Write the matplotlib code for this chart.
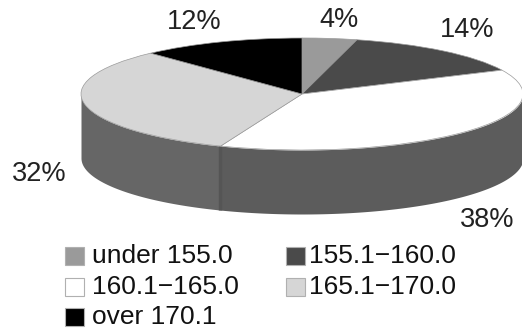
import numpy as np
import matplotlib
matplotlib.use("Agg")
import matplotlib.pyplot as plt
from matplotlib.patches import Rectangle

plt.rcParams["font.family"] = ["Liberation Sans", "DejaVu Sans"]

# height classes and their shares
categories = ["under 155.0", "155.1\u2212160.0", "160.1\u2212165.0", "165.1\u2212170.0", "over 170.1"]
shares = [4, 14, 38, 32, 12]
share_labels = ["4%", "14%", "38%", "32%", "12%"]
top_colors = ["#9a9a9a", "#4a4a4a", "#ffffff", "#d6d6d6", "#000000"]
side_colors = {2: "#5c5c5c", 3: "#666666"}

W, H = 522, 328
cx, cy = 302, 94     # centre of the top face, pixels
rx, ry = 221, 56     # ellipse radii, pixels
depth = 64 / ry      # rim height in pie units

fig = plt.figure(figsize=(W / 100, H / 100), dpi=100)
ax = fig.add_axes([0, 0, 1, 1])

# pie units: radius 1 maps onto the squashed ellipse
ax.pie(shares, colors=top_colors, startangle=90, counterclock=False, radius=1,
       wedgeprops={"edgecolor": "#9a9a9a", "linewidth": 0.5})
ax.set_aspect("auto")
ax.set_xlim(-cx / rx, (W - cx) / rx)
ax.set_ylim((cy - H) / ry, cy / ry)


def px(x, y):
    return (x - cx) / rx, (cy - y) / ry


# rim of the pie, only the front half shows
ends = np.cumsum(shares) / sum(shares) * 360
starts = ends - np.array(shares) / sum(shares) * 360
for i, col in side_colors.items():
    a0 = 90 - ends[i]
    a1 = 90 - starts[i]
    a0, a1 = max(a0, -180), min(a1, 0)
    t = np.radians(np.linspace(a0, a1, 120))
    ax.fill_between(np.cos(t), np.sin(t), np.sin(t) - depth, color=col, lw=0, zorder=0.5)

# darker seam between the two visible rim pieces
seam = np.radians(90 - ends[2])
ax.plot([np.cos(seam) - 0.004] * 2, [np.sin(seam), np.sin(seam) - depth], color="#555555",
        lw=2.5, zorder=0.6, solid_capstyle="butt")

# percentage labels
label_pos = [(339, 20), (467, 30), (487, 220), (39, 174), (194, 22)]
for txt, (x, y) in zip(share_labels, label_pos):
    ax.text(*px(x, y), txt, fontsize=19.5, color="#222222", ha="center", va="center")

# legend drawn by hand, two columns
legend_pos = [(65, 256), (286, 256), (65, 287), (286, 287), (65, 317)]
text_x = [92, 309, 92, 309, 92]
for name, col, (x, y), tx in zip(categories, top_colors, legend_pos, text_x):
    x0, y0 = px(x, y + 9)
    ax.add_patch(Rectangle((x0, y0), 19 / rx, 18 / ry, facecolor=col,
                           edgecolor="#b0b0b0", lw=0.8, clip_on=False))
    ax.text(*px(tx, y), name, fontsize=19, color="#111111", ha="left", va="center")

fig.savefig("out.png", dpi=100)
